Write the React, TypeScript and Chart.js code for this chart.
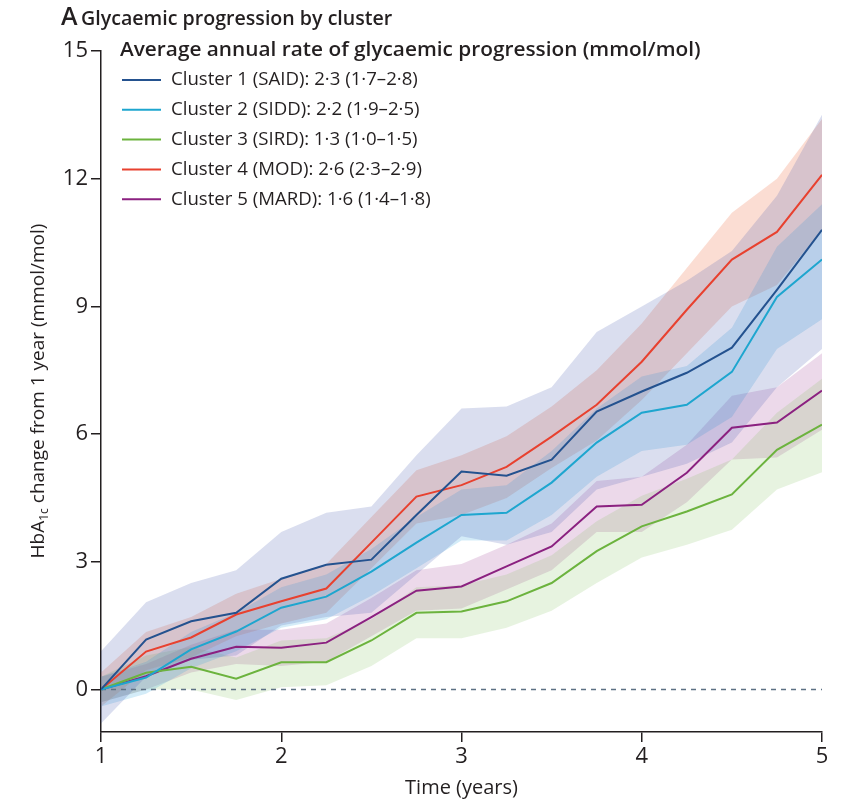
import React, { useEffect, useRef } from 'react';
import { Chart, registerables } from 'chart.js';

Chart.register(...registerables);

// ---- data ----
const years = [1, 1.25, 1.5, 1.75, 2, 2.25, 2.5, 2.75, 3, 3.25, 3.5, 3.75, 4, 4.25, 4.5, 4.75, 5];

const cluster1 = [0, 1.17, 1.6, 1.8, 2.6, 2.93, 3.05, 4.1, 5.12, 5.02, 5.4, 6.53, 7.0, 7.44, 8.03, 9.39, 10.8];
const cluster1High = [0.9, 2.05, 2.5, 2.8, 3.7, 4.15, 4.3, 5.5, 6.6, 6.65, 7.1, 8.4, 9.0, 9.6, 10.3, 11.6, 13.5];
const cluster1Low = [-0.8, 0.3, 0.7, 0.8, 1.5, 1.7, 1.8, 2.7, 3.6, 3.4, 3.7, 4.7, 5.0, 5.3, 5.8, 7.1, 8.0];

const cluster2 = [0, 0.28, 0.94, 1.36, 1.92, 2.18, 2.77, 3.45, 4.1, 4.15, 4.86, 5.8, 6.5, 6.69, 7.46, 9.22, 10.1];
const cluster2High = [0.3, 0.65, 1.35, 1.8, 2.4, 2.7, 3.3, 4.05, 4.7, 4.8, 5.6, 6.6, 7.35, 7.6, 8.5, 10.4, 11.4];
const cluster2Low = [-0.4, -0.1, 0.5, 0.9, 1.45, 1.65, 2.2, 2.85, 3.5, 3.5, 4.1, 5.0, 5.6, 5.75, 6.4, 8.0, 8.7];

const cluster3 = [0, 0.39, 0.53, 0.25, 0.64, 0.64, 1.15, 1.8, 1.83, 2.07, 2.5, 3.25, 3.83, 4.18, 4.58, 5.63, 6.22];
const cluster3High = [0.3, 0.8, 1.0, 0.75, 1.15, 1.2, 1.65, 2.4, 2.45, 2.7, 3.15, 3.95, 4.55, 4.95, 5.4, 6.5, 7.3];
const cluster3Low = [-0.3, 0.0, 0.0, -0.25, 0.05, 0.1, 0.55, 1.2, 1.2, 1.45, 1.85, 2.5, 3.1, 3.4, 3.75, 4.7, 5.1];

const cluster4 = [0, 0.89, 1.22, 1.76, 2.07, 2.37, 3.45, 4.53, 4.8, 5.23, 5.94, 6.69, 7.7, 8.92, 10.1, 10.75, 12.09];
const cluster4High = [0.4, 1.35, 1.7, 2.25, 2.6, 2.95, 4.05, 5.15, 5.5, 5.95, 6.65, 7.5, 8.6, 9.9, 11.2, 12.0, 13.4];
const cluster4Low = [-0.4, 0.45, 0.75, 1.25, 1.55, 1.8, 2.85, 3.9, 4.1, 4.5, 5.2, 5.85, 6.8, 7.9, 9.0, 9.5, 10.8];

const cluster5 = [0, 0.31, 0.72, 1.0, 0.98, 1.1, 1.7, 2.32, 2.42, 2.89, 3.36, 4.3, 4.34, 5.09, 6.15, 6.27, 7.02];
const cluster5High = [0.3, 0.6, 1.05, 1.4, 1.4, 1.55, 2.15, 2.8, 2.95, 3.4, 3.9, 4.9, 5.0, 5.75, 6.9, 7.1, 7.9];
const cluster5Low = [-0.3, 0.0, 0.4, 0.6, 0.55, 0.65, 1.25, 1.85, 1.9, 2.35, 2.8, 3.7, 3.7, 4.4, 5.4, 5.45, 6.1];

const clusterLabels = ['Cluster 1 (SAID)', 'Cluster 2 (SIDD)', 'Cluster 3 (SIRD)', 'Cluster 4 (MOD)', 'Cluster 5 (MARD)'];
const clusterRates = ['2·3 (1·7–2·8)', '2·2 (1·9–2·5)', '1·3 (1·0–1·5)', '2·6 (2·3–2·9)', '1·6 (1·4–1·8)'];

const zeroLineX = [1, 5];
const zeroLineY = [0, 0];

const xTicks = [1, 2, 3, 4, 5];
const yTicks = [0, 3, 6, 9, 12, 15];

const titleLetter = 'A';
const titleText = 'Glycaemic progression by cluster';
const legendTitle = 'Average annual rate of glycaemic progression (mmol/mol)';
const xTitle = 'Time (years)';

// ---- styles ----
const lineColors = ['#24528f', '#1ea6cf', '#6cb33e', '#e8412f', '#8b2180'];
const bandColors = [
  'rgba(70,90,175,0.20)',
  'rgba(40,160,220,0.20)',
  'rgba(130,190,90,0.19)',
  'rgba(240,120,80,0.25)',
  'rgba(170,80,160,0.22)',
];
const TEXT = '#231f20';
const FONT = '"Open Sans", "Noto Sans", sans-serif';

const means = [cluster1, cluster2, cluster3, cluster4, cluster5];
const highs = [cluster1High, cluster2High, cluster3High, cluster4High, cluster5High];
const lows = [cluster1Low, cluster2Low, cluster3Low, cluster4Low, cluster5Low];

const pts = (xs: number[], ys: number[]) => ys.map((y, i) => ({ x: xs[i], y }));

const overlayPlugin = {
  id: 'overlay',
  afterDraw(chart: any) {
    const ctx = chart.ctx as CanvasRenderingContext2D;
    const area = chart.chartArea;
    ctx.save();
    ctx.fillStyle = TEXT;
    ctx.textBaseline = 'middle';
    ctx.textAlign = 'left';

    // title
    ctx.font = `600 25px ${FONT}`;
    ctx.fillText(titleLetter, 61, 18);
    ctx.font = `600 20px ${FONT}`;
    ctx.save();
    ctx.translate(81, 19);
    ctx.scale(0.98, 1);
    ctx.fillText(titleText, 0, 0);
    ctx.restore();

    // legend title
    ctx.save();
    ctx.translate(120, 50);
    ctx.scale(1.04, 1);
    ctx.fillText(legendTitle, 0, 0);
    ctx.restore();

    // legend rows
    ctx.font = `400 19px ${FONT}`;
    for (let i = 0; i < clusterLabels.length; i++) {
      const y = 80 + i * 29.8;
      ctx.strokeStyle = lineColors[i];
      ctx.lineWidth = 2;
      ctx.beginPath();
      ctx.moveTo(122, y);
      ctx.lineTo(161, y);
      ctx.stroke();
      ctx.save();
      ctx.translate(171, y);
      ctx.scale(0.98, 1);
      ctx.fillText(`${clusterLabels[i]}: ${clusterRates[i]}`, 0, 0);
      ctx.restore();
    }

    // x title
    ctx.font = `400 20px ${FONT}`;
    ctx.textAlign = 'center';
    ctx.fillText(xTitle, (area.left + area.right) / 2, 788);

    // y title with subscript
    ctx.save();
    ctx.translate(37, 391);
    ctx.rotate(-Math.PI / 2);
    ctx.textAlign = 'left';
    const big = `400 19px ${FONT}`;
    const small = `400 12px ${FONT}`;
    ctx.font = big;
    const w1 = ctx.measureText('HbA').width;
    const w3 = ctx.measureText(' change from 1 year (mmol/mol)').width;
    ctx.font = small;
    const w2 = ctx.measureText('1c').width;
    let x = -(w1 + w2 + w3) / 2;
    ctx.textBaseline = 'alphabetic';
    ctx.font = big;
    ctx.fillText('HbA', x, 7);
    x += w1;
    ctx.font = small;
    ctx.fillText('1c', x, 11);
    x += w2;
    ctx.font = big;
    ctx.fillText(' change from 1 year (mmol/mol)', x, 7);
    ctx.restore();

    ctx.restore();
  },
};

export default function App() {
  const ref = useRef<HTMLCanvasElement | null>(null);

  useEffect(() => {
    document.body.style.margin = '0';
    const canvas = ref.current;
    if (!canvas) return;

    const datasets: any[] = [];
    // bands
    for (let i = 0; i < means.length; i++) {
      datasets.push({
        label: `${clusterLabels[i]} upper`,
        data: pts(years, highs[i]),
        borderWidth: 0,
        pointRadius: 0,
        backgroundColor: bandColors[i],
        fill: '+1',
        order: 10,
      });
      datasets.push({
        label: `${clusterLabels[i]} lower`,
        data: pts(years, lows[i]),
        borderWidth: 0,
        pointRadius: 0,
        backgroundColor: bandColors[i],
        fill: false,
        order: 10,
      });
    }
    // zero reference line
    datasets.push({
      label: 'zero',
      data: pts(zeroLineX, zeroLineY),
      borderColor: '#5d7184',
      borderWidth: 1.5,
      borderDash: [5, 5],
      pointRadius: 0,
      fill: false,
      order: 5,
    });
    // mean lines
    for (let i = 0; i < means.length; i++) {
      datasets.push({
        label: clusterLabels[i],
        data: pts(years, means[i]),
        borderColor: lineColors[i],
        borderWidth: 2,
        pointRadius: 0,
        fill: false,
        tension: 0,
        order: 1,
      });
    }

    const chart = new Chart(canvas, {
      type: 'line',
      data: { datasets },
      options: {
        animation: false,
        responsive: false,
        devicePixelRatio: 1,
        layout: { padding: { top: 51, right: 22, left: 0, bottom: 0 } },
        plugins: {
          legend: { display: false },
          title: { display: false },
          tooltip: { enabled: false },
        },
        scales: {
          x: {
            type: 'linear',
            min: 1,
            max: 5,
            afterBuildTicks: (s: any) => {
              s.ticks = xTicks.map((v) => ({ value: v }));
            },
            afterFit: (s: any) => {
              s.height = 72;
            },
            grid: {
              display: true,
              drawOnChartArea: false,
              drawTicks: true,
              tickLength: 10,
              color: '#231f20',
              lineWidth: 1.5,
            },
            border: { display: true, color: '#231f20', width: 1.5 },
            ticks: {
              color: TEXT,
              font: { family: FONT, size: 22 },
              padding: 2,
              maxRotation: 0,
              callback: (v: any) => String(v),
            },
          },
          y: {
            type: 'linear',
            min: -1,
            max: 15,
            afterBuildTicks: (s: any) => {
              s.ticks = yTicks.map((v) => ({ value: v }));
            },
            afterFit: (s: any) => {
              s.width = 101;
            },
            grid: {
              display: true,
              drawOnChartArea: false,
              drawTicks: true,
              tickLength: 10,
              color: '#231f20',
              lineWidth: 1.5,
            },
            border: { display: true, color: '#231f20', width: 1.5 },
            ticks: {
              color: TEXT,
              font: { family: FONT, size: 22 },
              padding: 3,
              callback: (v: any) => String(v),
            },
          },
        },
      },
      plugins: [overlayPlugin],
    } as any);

    return () => chart.destroy();
  }, []);

  return <canvas ref={ref} width={844} height={804} style={{ display: 'block' }} />;
}
